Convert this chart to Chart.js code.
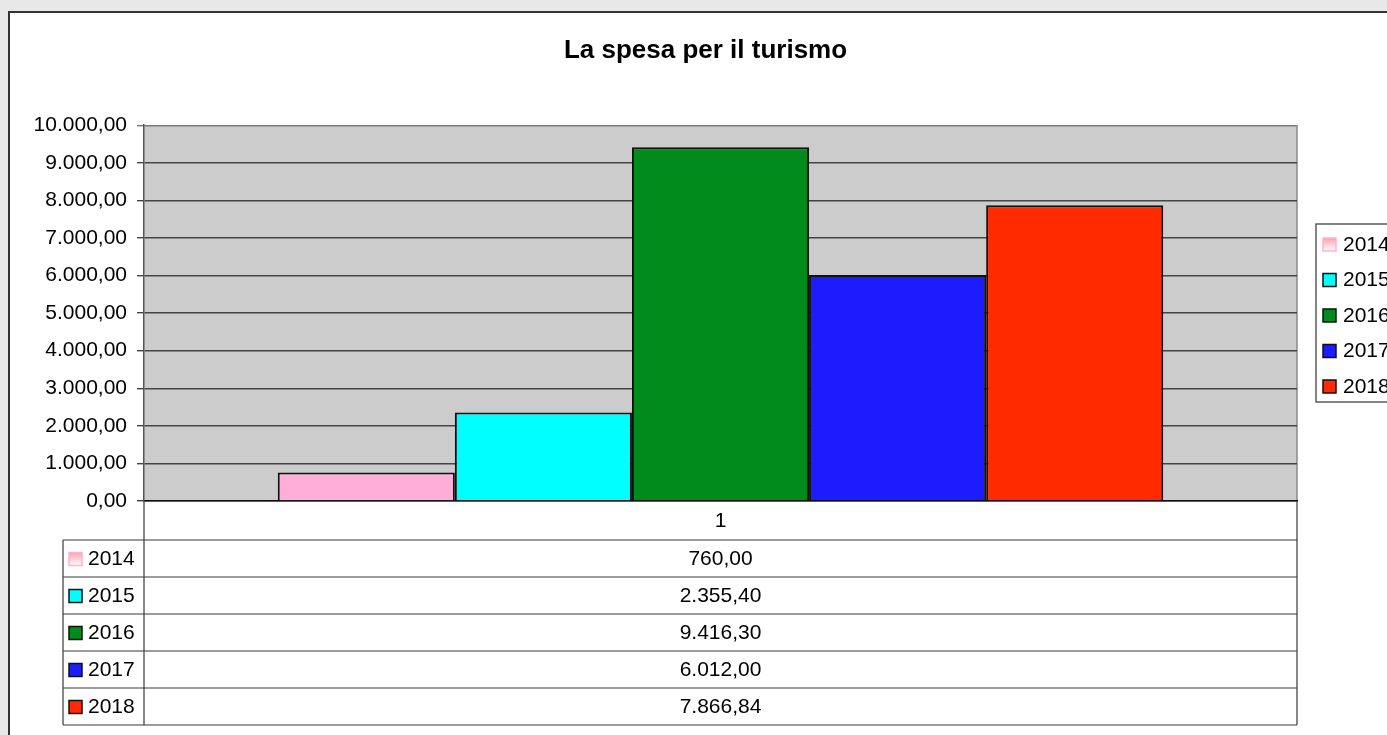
<!DOCTYPE html>
<html>
<head>
<meta charset="utf-8">
<script src="https://cdn.jsdelivr.net/npm/chart.js@4/dist/chart.umd.min.js"></script>
<style>
  html, body { margin: 0; padding: 0; background: #e8e8e8; overflow: hidden; width: 1387px; height: 735px; }
  #frame {
    position: absolute; left: 8px; top: 11px; width: 1400px; height: 740px;
    background: #fff; border: 2px solid #333;
  }
  #chart { position: absolute; left: 0; top: 0; }
</style>
</head>
<body>
<div id="frame"></div>
<canvas id="chart" width="1411" height="735"></canvas>
<script>
// chart data
const title = "La spesa per il turismo";
const categories = ["1"];
const years = ["2014", "2015", "2016", "2017", "2018"];
const values = [760.00, 2355.40, 9416.30, 6012.00, 7866.84];
const colors = ["#ffafd7", "#00ffff", "#008b1b", "#1c1cff", "#ff2a00"];
const yTicks = [0, 1000, 2000, 3000, 4000, 5000, 6000, 7000, 8000, 9000, 10000];

const FONT = "'Liberation Sans', Arial, sans-serif";

// 1234.5 -> "1.234,50"
function fmt(v) {
    const parts = v.toFixed(2).split(".");
    parts[0] = parts[0].replace(/\B(?=(\d{3})+(?!\d))/g, ".");
    return parts[0] + "," + parts[1];
}

function swatch(ctx, x, y, i) {
    if (i == 0) {
        const g = ctx.createLinearGradient(0, y, 0, y + 13);
        g.addColorStop(0, "#f7a3a8");
        g.addColorStop(1, "#ffffff");
        ctx.fillStyle = g;
        ctx.strokeStyle = "#ffb0d8";
    } else {
        ctx.fillStyle = colors[i];
        ctx.strokeStyle = "#111";
    }
    ctx.lineWidth = 1.5;
    ctx.fillRect(x, y, 13, 13);
    ctx.strokeRect(x, y, 13, 13);
}

// grey plot background, right border
const plotBg = {
    id: "plotBg",
    beforeDraw(chart) {
        const { ctx, chartArea: a } = chart;
        ctx.save();
        ctx.fillStyle = "#cccccc";
        ctx.fillRect(a.left, a.top, a.right - a.left, a.bottom - a.top);
        ctx.strokeStyle = "#8a8a8a";
        ctx.lineWidth = 1.5;
        ctx.beginPath();
        ctx.moveTo(a.right, a.top);
        ctx.lineTo(a.right, a.bottom);
        ctx.stroke();
        ctx.restore();
    }
};

// data table under the axis + legend box on the right
const tableAndLegend = {
    id: "tableAndLegend",
    afterDraw(chart) {
        const { ctx, chartArea: a } = chart;
        const top = chart.scales.x.bottom;
        const rowH = 37;
        const tableLeft = a.left - 81;
        const bottom = top + rowH * years.length;
        ctx.save();
        ctx.strokeStyle = "#3a3a3a";
        ctx.lineWidth = 1.2;
        ctx.beginPath();
        for (let i = 0; i <= years.length; i++) {
            ctx.moveTo(tableLeft, top + i * rowH);
            ctx.lineTo(a.right, top + i * rowH);
        }
        ctx.moveTo(tableLeft, top);
        ctx.lineTo(tableLeft, bottom);
        ctx.moveTo(a.left, a.bottom);
        ctx.lineTo(a.left, bottom);
        ctx.moveTo(a.right, a.bottom);
        ctx.lineTo(a.right, bottom);
        ctx.stroke();

        ctx.font = "21px " + FONT;
        ctx.fillStyle = "#000";
        ctx.textBaseline = "middle";
        const mid = (a.left + a.right) / 2;
        chart.data.datasets.forEach((ds, i) => {
            const cy = top + i * rowH + rowH / 2 + 1;
            swatch(ctx, tableLeft + 6, cy - 7, i);
            ctx.fillStyle = "#000";
            ctx.textAlign = "left";
            ctx.fillText(ds.label, tableLeft + 25, cy);
            ctx.textAlign = "center";
            ctx.fillText(fmt(ds.data[0]), mid, cy);
        });

        // legend
        const lx = a.right + 19, ly = 224;
        ctx.fillStyle = "#fff";
        ctx.fillRect(lx, ly, 90, 178);
        ctx.strokeStyle = "#333";
        ctx.lineWidth = 1.2;
        ctx.strokeRect(lx, ly, 90, 178);
        chart.data.datasets.forEach((ds, i) => {
            const cy = ly + 21 + i * 35.5;
            swatch(ctx, lx + 7, cy - 7, i);
            ctx.fillStyle = "#000";
            ctx.textAlign = "left";
            ctx.fillText(ds.label, lx + 27, cy);
        });
        ctx.restore();
    }
};

new Chart("chart", {
    type: "bar",
    data: {
        labels: categories,
        datasets: years.map((y, i) => ({
            label: y,
            data: [values[i]],
            backgroundColor: colors[i],
            borderColor: "#111",
            borderWidth: 2,
            categoryPercentage: 0.768,
            barPercentage: 1
        }))
    },
    options: {
        responsive: false,
        animation: false,
        layout: { padding: { left: 0, right: 0, top: 0, bottom: 195 } },
        plugins: {
            legend: { display: false },
            tooltip: { enabled: false },
            title: {
                display: true,
                text: title,
                color: "#000",
                font: { family: FONT, size: 26, weight: "bold" },
                padding: { top: 35, bottom: 59 }
            }
        },
        scales: {
            x: {
                grid: { display: false, drawTicks: false },
                border: { display: true, color: "#111", width: 1.5 },
                ticks: {
                    color: "#000",
                    padding: 8,
                    font: { family: FONT, size: 21 }
                },
                afterFit(scale) { scale.height = 39; }
            },
            y: {
                min: 0,
                max: 10000,
                afterBuildTicks(scale) { scale.ticks = yTicks.map(v => ({ value: v })); },
                grid: {
                    color: ctx => ctx.tick && ctx.tick.value == 10000 ? "#7a7a7a" : "#444",
                    lineWidth: 1.4,
                    tickLength: 7
                },
                border: { color: "#555", width: 1.5 },
                ticks: {
                    color: "#000",
                    padding: 10,
                    font: { family: FONT, size: 21 },
                    callback: v => fmt(v)
                },
                afterFit(scale) { scale.width = 144; }
            },
            // empty right-hand strip that keeps room for the legend box
            side: {
                type: "linear",
                position: "right",
                grid: { display: false },
                border: { display: false },
                ticks: { display: false },
                afterFit(scale) { scale.width = 114; }
            }
        }
    },
    plugins: [plotBg, tableAndLegend]
});
</script>
</body>
</html>
